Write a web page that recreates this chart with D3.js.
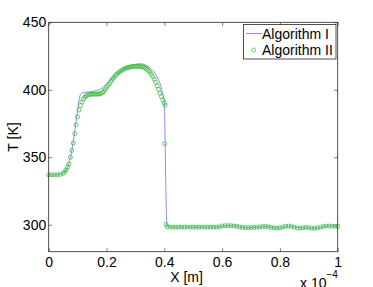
<!DOCTYPE html>
<html>
<head>
<meta charset="utf-8">
<style>
body { margin: 0; background: #fff; }
text { font-family: "Liberation Sans", Arial, Helvetica, sans-serif; fill: #000; }
</style>
</head>
<body>
<svg id="chart" width="373" height="287"></svg>
<script src="https://cdn.jsdelivr.net/npm/d3@7"></script>
<script>
// x in units of 1e-4 m, T in K
var xTicks = [0, 0.2, 0.4, 0.6, 0.8, 1];
var xTickLabels = ["0", "0.2", "0.4", "0.6", "0.8", "1"];
var yTicks = [300, 350, 400, 450];

// Algorithm I (line)
var xAlgI = [0, 0.02, 0.04, 0.05, 0.06, 0.07, 0.08, 0.09, 0.1, 0.105, 0.11, 0.115, 0.12, 0.135, 0.15, 0.165, 0.18, 0.19, 0.2, 0.21, 0.22, 0.23, 0.24, 0.25, 0.26, 0.27, 0.28, 0.29, 0.3, 0.31, 0.32, 0.33, 0.34, 0.35, 0.36, 0.37, 0.38, 0.385, 0.39, 0.395, 0.4, 0.402, 0.404, 0.406, 0.408, 0.41, 0.42,
    0.45, 0.5, 0.55, 0.59, 0.6, 0.62, 0.64, 0.66, 0.68, 0.7, 0.72, 0.74, 0.75, 0.77, 0.79, 0.81, 0.83, 0.85, 0.87, 0.89, 0.91, 0.93, 0.95, 0.97, 0.99, 1];
var tAlgI = [337, 337, 337.2, 338, 340.5, 345.5, 355, 369, 385, 392.5, 396.5, 397.6, 398, 398.3, 398.7, 399.4, 400.6, 402.3, 404.5, 406.6, 408.6, 410.5, 412.2, 413.8, 415.2, 416.4, 417.4, 418.2, 418.8, 419.2, 419.2, 418.8, 417.8, 416.3, 414.3, 411.5, 407.5, 404.8, 401, 396.5, 390.5, 373, 346, 320, 303, 299, 298.3,
    298.2, 298.2, 298.2, 298.3, 299.1, 299.3, 299.2, 298.5, 297.8, 297.8, 298.1, 298.5, 298.7, 298.1, 297.4, 298, 298.9, 298.4, 297.6, 297.8, 297.4, 297.5, 298.5, 299.1, 298.9, 298.8];

// Algorithm II (markers)
var xAlgII = [0, 0.01, 0.02, 0.03, 0.04, 0.05, 0.055, 0.06, 0.065, 0.07, 0.075, 0.08, 0.085, 0.09, 0.095, 0.1, 0.105, 0.11, 0.115, 0.12, 0.125, 0.13, 0.135, 0.14, 0.145, 0.15, 0.155, 0.16, 0.165, 0.17, 0.175, 0.18, 0.185, 0.19, 0.195,
    0.2, 0.205, 0.21, 0.215, 0.22, 0.225, 0.23, 0.235, 0.24, 0.245, 0.25, 0.255, 0.26, 0.265, 0.27, 0.275, 0.28, 0.285, 0.29, 0.295,
    0.3, 0.305, 0.31, 0.315, 0.32, 0.325, 0.33, 0.335, 0.34, 0.345, 0.35, 0.355, 0.36, 0.365, 0.37, 0.375, 0.38, 0.385, 0.39, 0.395, 0.4, 0.403, 0.401, 0.406, 0.41,
    0.42, 0.43, 0.44, 0.45, 0.46, 0.47, 0.48, 0.49, 0.5, 0.51, 0.52, 0.53, 0.54, 0.55, 0.56, 0.57, 0.58, 0.59,
    0.6, 0.61, 0.62, 0.63, 0.64, 0.65, 0.66, 0.67, 0.68, 0.69, 0.7, 0.71, 0.72, 0.73, 0.74, 0.75, 0.76, 0.77, 0.78, 0.79,
    0.8, 0.81, 0.82, 0.83, 0.84, 0.85, 0.86, 0.87, 0.88, 0.89, 0.9, 0.91, 0.92, 0.93, 0.94, 0.95, 0.96, 0.97, 0.98, 0.99, 1];
var tAlgII = [337, 337, 337, 337, 337.3, 338, 339, 340.5, 342.5, 345, 350, 355, 360.5, 367.5, 374, 380, 385, 388.3, 391, 393.2, 394.6, 395.5, 396.1, 396.5, 396.7, 396.8, 396.8, 396.8, 396.8, 396.8, 396.9, 397.2, 397.8, 398.7, 400,
    401.5, 403, 404.6, 406.2, 407.7, 409, 410.3, 411.4, 412.4, 413.3, 414, 414.7, 415.3, 415.8, 416.2, 416.5, 416.8, 417, 417.2, 417.3,
    417.4, 417.4, 417.4, 417.3, 417.2, 417, 416.6, 416, 415.2, 414.2, 413, 411.5, 409.8, 407.8, 405.5, 403, 400.3, 397.5, 395, 392.5, 390.2, 388.5, 360, 300.3, 298.6,
    298.2, 298.2, 298.2, 298.2, 298.2, 298.2, 298.2, 298.2, 298.2, 298.2, 298.2, 298.2, 298.2, 298.2, 298.2, 298.2, 298.2, 298.4,
    299.1, 299.3, 299.3, 299.2, 299.1, 298.9, 298.4, 298, 297.8, 297.8, 297.9, 298, 298.2, 298.4, 298.6, 298.7, 298.5, 298, 297.6, 297.4,
    297.7, 298.3, 298.8, 299, 298.7, 298.1, 297.6, 297.5, 297.8, 298, 297.8, 297.4, 297.3, 297.6, 298.2, 298.7, 299, 299, 298.9, 298.8, 298.8];

var svg = d3.select("#chart");
var pLeft = 48.7, pRight = 337.7, pTop = 22.3, pBottom = 251.7;
var axisColor = "#262626";
var fontSize = "14px";

var x = d3.scaleLinear().domain([0, 1]).range([pLeft, pRight]);
var y = d3.scaleLinear().domain([280, 450]).range([pBottom, pTop]);

// white plot box
svg.append("rect")
    .attr("x", pLeft).attr("y", pTop)
    .attr("width", pRight - pLeft).attr("height", pBottom - pTop)
    .attr("fill", "#fff");

// axes with inward ticks, mirrored on top/right
svg.append("g").attr("transform", "translate(0," + pBottom + ")")
    .call(d3.axisBottom(x).tickValues(xTicks).tickSizeInner(-3.5).tickSizeOuter(0).tickFormat(function (d, i) { return xTickLabels[i]; }))
    .call(function (g) {
        g.select(".domain").remove();
        g.selectAll("line").attr("stroke", axisColor).attr("stroke-width", 0.6);
        g.selectAll("text").attr("y", 5.5).attr("dy", "0.71em").style("font-size", fontSize).attr("fill", "#000");
    });
svg.append("g").attr("transform", "translate(0," + pTop + ")")
    .call(d3.axisTop(x).tickValues(xTicks).tickSizeInner(-3.5).tickSizeOuter(0).tickFormat(""))
    .call(function (g) {
        g.select(".domain").remove();
        g.selectAll("line").attr("stroke", axisColor).attr("stroke-width", 0.6);
    });
svg.append("g").attr("transform", "translate(" + pLeft + ",0)")
    .call(d3.axisLeft(y).tickValues(yTicks).tickSizeInner(-3.5).tickSizeOuter(0))
    .call(function (g) {
        g.select(".domain").remove();
        g.selectAll("line").attr("stroke", axisColor).attr("stroke-width", 0.6);
        g.selectAll("text").attr("x", -2.5).style("font-size", fontSize).attr("fill", "#000");
    });
svg.append("g").attr("transform", "translate(" + pRight + ",0)")
    .call(d3.axisRight(y).tickValues(yTicks).tickSizeInner(-3.5).tickSizeOuter(0).tickFormat(""))
    .call(function (g) {
        g.select(".domain").remove();
        g.selectAll("line").attr("stroke", axisColor).attr("stroke-width", 0.6);
    });

// Algorithm I line
var lineData = xAlgI.map(function (d, i) { return [d, tAlgI[i]]; });
svg.append("path")
    .datum(lineData)
    .attr("fill", "none")
    .attr("stroke", "#7d7dff")
    .attr("stroke-width", 0.9)
    .attr("d", d3.line().x(function (d) { return x(d[0]); }).y(function (d) { return y(d[1]); }).curve(d3.curveMonotoneX));

// Algorithm II markers
svg.append("g").selectAll("circle")
    .data(xAlgII.map(function (d, i) { return [d, tAlgII[i]]; }))
    .enter().append("circle")
    .attr("cx", function (d) { return x(d[0]); })
    .attr("cy", function (d) { return y(d[1]); })
    .attr("r", 2)
    .attr("fill", "none")
    .attr("stroke", "#3fbf3f")
    .attr("stroke-width", 0.8);

// frame
svg.append("rect")
    .attr("x", pLeft).attr("y", pTop)
    .attr("width", pRight - pLeft).attr("height", pBottom - pTop)
    .attr("fill", "none").attr("stroke", axisColor).attr("stroke-width", 0.8);

// axis titles
svg.append("text")
    .attr("x", 186.5).attr("y", 281.5)
    .attr("text-anchor", "middle")
    .style("font-size", fontSize)
    .text("X [m]");
svg.append("text")
    .attr("transform", "translate(18,137) rotate(-90)")
    .attr("text-anchor", "middle")
    .style("font-size", fontSize)
    .text("T [K]");
var expo = svg.append("text")
    .attr("x", 300).attr("y", 287.5)
    .style("font-size", fontSize);
expo.append("tspan").text("x 10");
expo.append("tspan").attr("dy", -10).style("font-size", "10px").text("\u22124");

// legend
var lg = svg.append("g");
lg.append("rect")
    .attr("x", 243.5).attr("y", 24.5)
    .attr("width", 92.5).attr("height", 34.5)
    .attr("fill", "#fff").attr("stroke", axisColor).attr("stroke-width", 0.8);
lg.append("line")
    .attr("x1", 246).attr("x2", 262).attr("y1", 33.5).attr("y2", 33.5)
    .attr("stroke", "#7d7dff").attr("stroke-width", 0.9);
lg.append("text").attr("x", 262).attr("y", 38.5).style("font-size", fontSize).text("Algorithm I");
lg.append("circle")
    .attr("cx", 253.5).attr("cy", 50)
    .attr("r", 2).attr("fill", "none").attr("stroke", "#3fbf3f").attr("stroke-width", 0.8);
lg.append("text").attr("x", 262).attr("y", 55).style("font-size", fontSize).text("Algorithm II");
</script>
</body>
</html>
